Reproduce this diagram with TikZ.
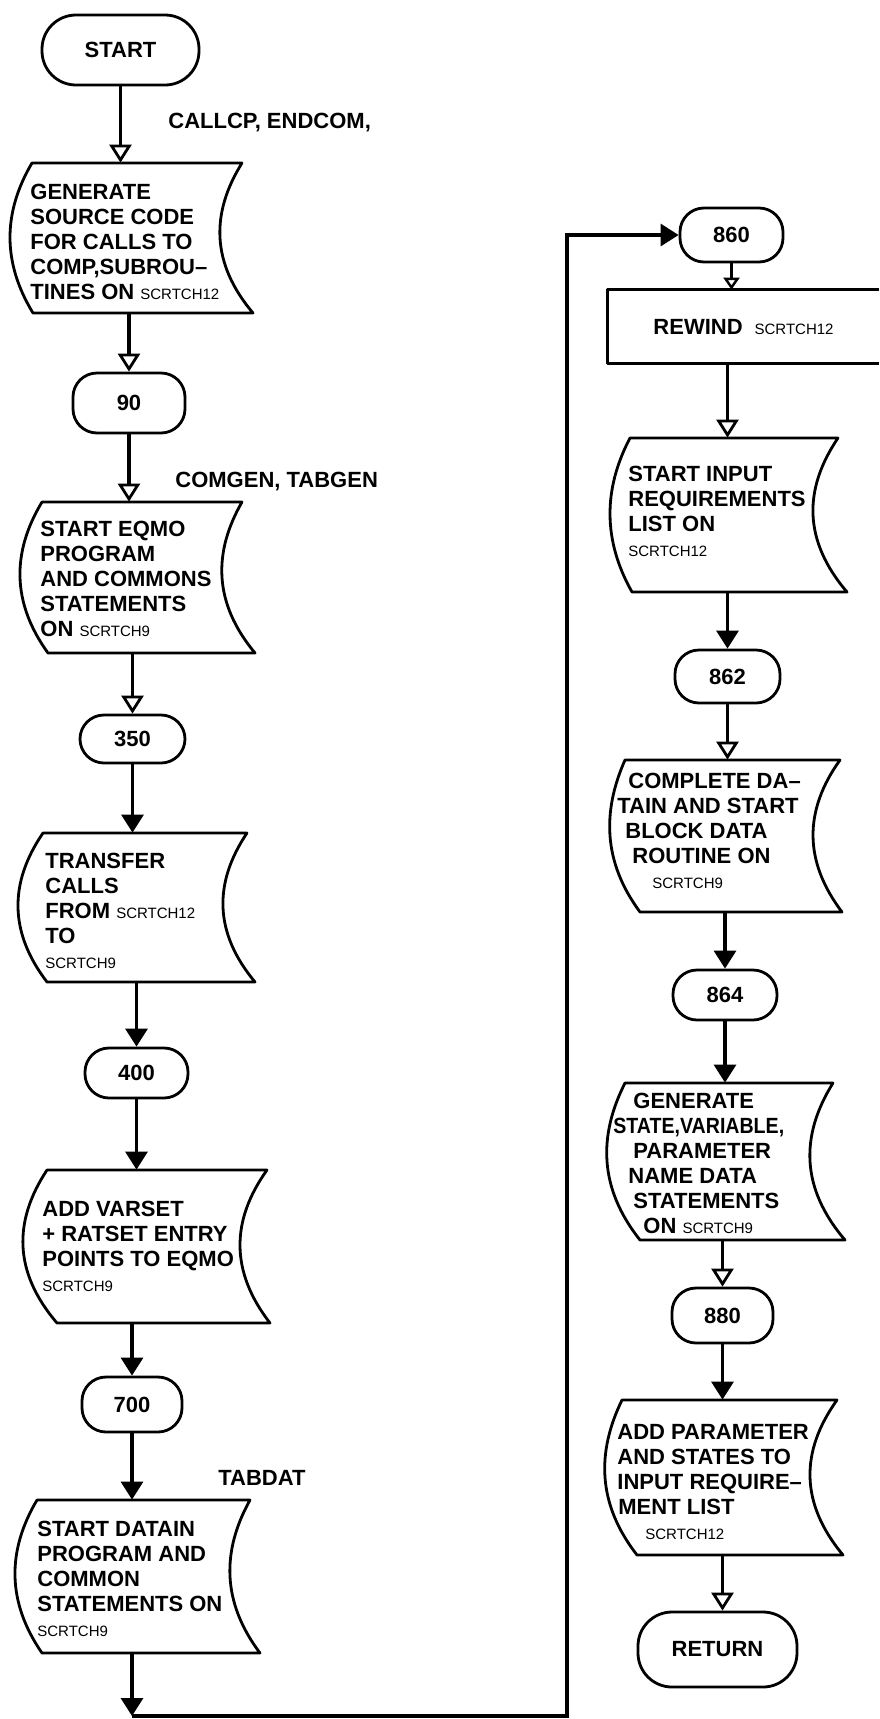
\documentclass[tikz,border=0pt]{standalone}
\usepackage{fontspec}
\usepackage{graphicx}
\setmainfont{Liberation Sans}
\usetikzlibrary{arrows.meta}

% small lettering used for the scratch file names
\newcommand\smallcode[1]{{\mdseries\fontsize{7.5}{9}\selectfont #1}}

% stored-data box: name, top, bottom, left (top/mid/bottom), right (top/mid/bottom)
\newcommand\tapebox[9]{%
  \draw[shapeline] (#4,#2) -- (#7,#2)
    .. controls ({(#8-0.125*(#7+#9))/0.75},{#2+(#3-#2)/3}) and ({(#8-0.125*(#7+#9))/0.75},{#2+2*(#3-#2)/3}) .. (#9,#3)
    -- (#6,#3)
    .. controls ({(#5-0.125*(#4+#6))/0.75},{#2+2*(#3-#2)/3}) and ({(#5-0.125*(#4+#6))/0.75},{#2+(#3-#2)/3}) .. (#4,#2) -- cycle;
  \node (#1) [inner sep=0pt, minimum width={(#7-#4)*0.5pt}, minimum height={(#3-#2)*0.5pt}] at ({(#4+#7)/2},{(#2+#3)/2}) {};
}

\tikzset{
  shapeline/.style={line width=1.4pt, line join=round},
  term/.style={draw, shapeline, rounded corners=#1, inner sep=0pt,
    font=\bfseries\fontsize{11}{12.5}\selectfont},
  term/.default=12pt,
  txt/.style={inner sep=0pt, align=left, font=\bfseries\fontsize{11}{12.5}\selectfont},
  conn/.style={line width=1.6pt, -{Triangle[width=11pt,length=9pt]}},
  connopen/.style={line width=1.6pt, -{Triangle[open,fill=white,width=11pt,length=9pt,line width=1.4pt]}},
  connsmall/.style={line width=1.4pt, -{Triangle[open,fill=white,width=8pt,length=6pt,line width=1.2pt]}},
}

\begin{document}
\begin{tikzpicture}[x=0.5pt, y=-0.5pt]
\useasboundingbox (0,0) rectangle (879,1719);

% ---- terminals ----
\node (start) [term=17pt, minimum width=78.5pt, minimum height=35pt] at (120.5,50) {START};
\node (n90)  [term, minimum width=56pt,   minimum height=30pt]   at (129,403)    {90};
\node (n350) [term, minimum width=52.5pt, minimum height=24pt]   at (132.5,739)  {350};
\node (n400) [term, minimum width=51.5pt, minimum height=25pt]   at (136.5,1073) {400};
\node (n700) [term, minimum width=50pt,   minimum height=27.5pt] at (132,1404.5) {700};
\node (n860) [term, minimum width=51.5pt, minimum height=27pt]   at (731.5,235)  {860};
\node (n862) [term, minimum width=52.5pt, minimum height=26.5pt] at (727.5,676.5) {862};
\node (n864) [term, minimum width=52pt,   minimum height=25pt]   at (725,995)    {864};
\node (n880) [term, minimum width=50.5pt, minimum height=27.5pt] at (722.5,1315.5) {880};
\node (ret)  [term=17pt, minimum width=79.5pt, minimum height=37.5pt] at (717.5,1649.5) {RETURN};

% ---- stored-data boxes ----
\tapebox{d1}{163}{313}{32}{10}{33}{242}{220}{253}
\tapebox{d2}{502}{653}{42}{20}{48}{242}{222}{255}
\tapebox{d3}{833}{982}{43}{18}{47}{247}{223}{255}
\tapebox{d4}{1170}{1323}{47}{23}{57}{267}{240}{270}
\tapebox{d5}{1500}{1653}{37}{15}{42}{250}{230}{260}
\tapebox{d7}{438}{592}{630}{610}{632}{838}{813}{847}
\tapebox{d8}{760}{912}{625}{610}{640}{840}{813}{842}
\tapebox{d9}{1083}{1240}{625}{607}{640}{833}{810}{845}
\tapebox{d10}{1400}{1555}{622}{605}{637}{837}{810}{843}

% ---- process box running off the right edge ----
\node (rew) [txt, minimum width=135.5pt, minimum height=36.5pt] at (743.5,326.5)
  {REWIND\hspace{6pt}\smallcode{SCRTCH12}};
\draw[shapeline] (rew.north east) -- (rew.north west) -- (rew.south west) -- (rew.south east);

% ---- box texts (placed by the top of their first line) ----
\node (t1) [txt, anchor=north west] at (30,184)
  {GENERATE\\SOURCE CODE\\FOR CALLS TO\\COMP,SUBROU–\\TINES ON \smallcode{SCRTCH12}};
\node (t2) [txt, anchor=north west] at (40,521)
  {START EQMO\\PROGRAM\\AND COMMONS\\STATEMENTS\\ON \smallcode{SCRTCH9}};
\node (t3) [txt, anchor=north west] at (45,853)
  {TRANSFER\\CALLS\\FROM \smallcode{SCRTCH12}\\TO\\\smallcode{SCRTCH9}};
\node (t4) [txt, anchor=north west] at (42,1201)
  {ADD VARSET\\+ RATSET ENTRY\\POINTS TO EQMO\\\smallcode{SCRTCH9}};
\node (t5) [txt, anchor=north west] at (37,1521)
  {START DATAIN\\PROGRAM AND\\COMMON\\STATEMENTS ON\\\smallcode{SCRTCH9}};
\node (t7) [txt, anchor=north west] at (628,466)
  {START INPUT\\REQUIREMENTS\\LIST ON\\\smallcode{SCRTCH12}};
\node (t8) [txt, anchor=north west] at (617,773)
  {\hspace*{5.5pt}COMPLETE DA–\\TAIN AND START\\\hspace*{4pt}BLOCK DATA\\\hspace*{7.5pt}ROUTINE ON\\\hspace*{17.5pt}\smallcode{SCRTCH9}};
\node (t9) [txt, anchor=north west] at (613,1093)
  {\hspace*{10pt}GENERATE\\\scalebox{0.89}[1]{STATE,VARIABLE,}\\\hspace*{10pt}PARAMETER\\\hspace*{7.5pt}NAME DATA\\\hspace*{10pt}STATEMENTS\\\hspace*{15pt}ON \smallcode{SCRTCH9}};
\node (t10) [txt, anchor=north west] at (617,1424)
  {ADD PARAMETER\\AND STATES TO\\INPUT REQUIRE–\\\hspace*{0.5pt}MENT LIST\\\hspace*{14pt}\smallcode{SCRTCH12}};

% ---- connector labels ----
\node (lab1) [txt, anchor=base west] at (168,128)  {CALLCP, ENDCOM,};
\node (lab2) [txt, anchor=base west] at (175,487)  {COMGEN, TABGEN};
\node (lab3) [txt, anchor=base west] at (218,1485) {TABDAT};

% ---- left column connectors ----
\draw[connopen] (start.south) -- (start.south |- d1.north);
\draw[connopen] (n90.north |- d1.south) -- (n90.north);
\draw[connopen] (n90.south) -- (n90.south |- d2.north);
\draw[connopen] (n350.north |- d2.south) -- (n350.north);
\draw[conn] (n350.south) -- (n350.south |- d3.north);
\draw[conn] (n400.north |- d3.south) -- (n400.north);
\draw[conn] (n400.south) -- (n400.south |- d4.north);
\draw[conn] (n700.north |- d4.south) -- (n700.north);
\draw[conn] (n700.south) -- (n700.south |- d5.north);

% ---- crossover to the right column ----
\coordinate (c1) at (132,1716);
\coordinate (c2) at (567,1716);
\draw[conn] (n700.south |- d5.south) -- (c1);
\draw[conn] (c1) -- (c2) -- (c2 |- n860.west) -- (n860.west);

% ---- right column connectors ----
\draw[connsmall] (n860.south) -- (n860.south |- rew.north);
\draw[connopen] (n862.north |- rew.south) -- (n862.north |- d7.north);
\draw[conn] (n862.north |- d7.south) -- (n862.north);
\draw[connopen] (n862.south) -- (n862.south |- d8.north);
\draw[conn] (n864.north |- d8.south) -- (n864.north);
\draw[conn] (n864.south) -- (n864.south |- d9.north);
\draw[connopen] (n880.north |- d9.south) -- (n880.north);
\draw[conn] (n880.south) -- (n880.south |- d10.north);
\draw[connopen] (n880.south |- d10.south) -- (n880.south |- ret.north);
\end{tikzpicture}
\end{document}
